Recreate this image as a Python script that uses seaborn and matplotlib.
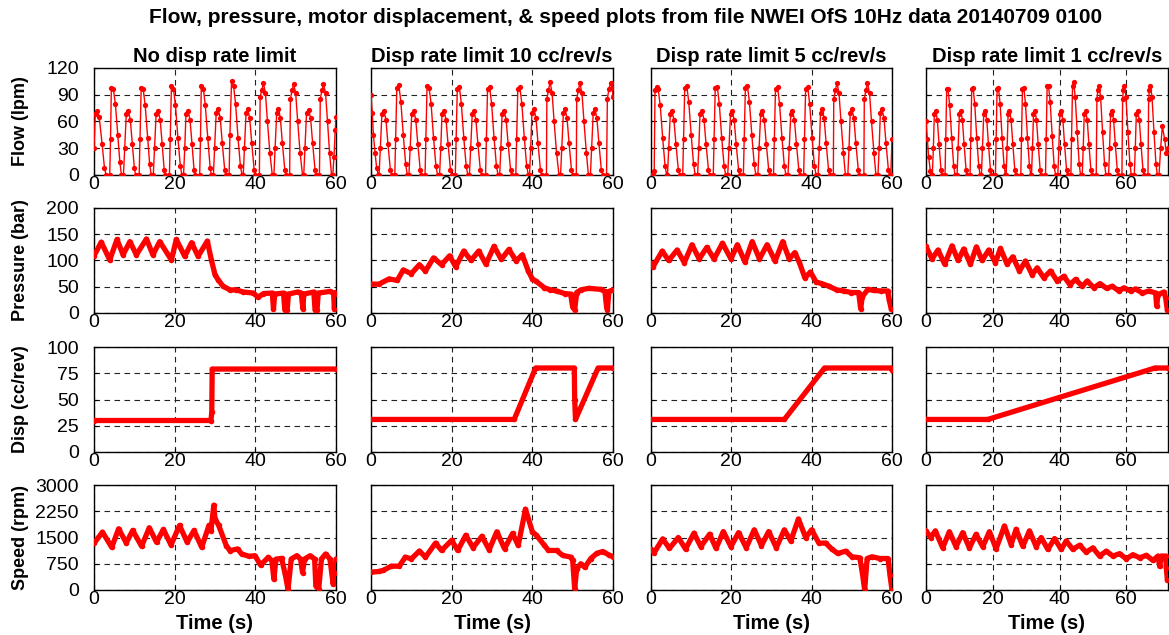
import numpy as np
import pandas as pd
import matplotlib
matplotlib.use("Agg")
import matplotlib.pyplot as plt
import seaborn as sns

# column titles and row labels
col_titles = ["No disp rate limit", "Disp rate limit 10 cc/rev/s",
              "Disp rate limit 5 cc/rev/s", "Disp rate limit 1 cc/rev/s"]
row_labels = ["Flow (lpm)", "Pressure (bar)", "Disp (cc/rev)", "Speed (rpm)"]
row_ticks = [[0, 30, 60, 90, 120], [0, 50, 100, 150, 200],
             [0, 25, 50, 75, 100], [0, 750, 1500, 2250, 3000]]
x_ticks = [0, 20, 40, 60]
x_max = [60, 60, 60, 72.5]

# ---------------- flow (lpm), (time s, value) ----------------
flow_nolim = [
    (0, 30), (0.3, 68), (0.8, 72), (1.3, 65), (2.0, 35), (2.6, 8), (3.0, 0),
    (3.9, 0), (4.1, 40), (4.3, 98), (4.8, 96), (5.3, 80), (5.9, 45), (6.4, 15), (6.8, 0),
    (7.3, 0), (7.6, 30), (8.0, 68), (8.5, 72), (9.0, 62), (9.5, 35), (10.0, 8), (10.3, 0),
    (11.2, 0), (11.4, 40), (11.7, 98), (12.2, 96), (12.7, 78), (13.3, 42), (13.8, 12), (14.2, 0),
    (14.7, 0), (15.0, 30), (15.4, 68), (15.9, 72), (16.4, 62), (16.9, 35), (17.4, 6), (17.7, 0),
    (18.7, 0), (18.9, 40), (19.2, 100), (19.7, 97), (20.2, 78), (20.8, 42), (21.4, 10), (21.8, 0),
    (22.2, 0), (22.5, 30), (22.8, 68), (23.3, 72), (23.8, 62), (24.3, 35), (24.8, 6), (25.1, 0),
    (26.2, 0), (26.4, 40), (26.6, 100), (27.1, 97), (27.6, 78), (28.2, 42), (28.8, 8), (29.1, 0),
    (29.6, 0), (29.9, 30), (30.3, 70), (30.8, 74), (31.3, 64), (31.8, 36), (32.4, 6), (32.7, 0),
    (33.5, 0), (33.7, 45), (34.1, 105), (34.6, 100), (35.1, 80), (35.7, 42), (36.3, 10), (36.7, 0),
    (37.0, 0), (37.3, 30), (37.7, 70), (38.1, 74), (38.6, 64), (39.1, 36), (39.7, 6), (40.0, 0),
    (41.0, 0), (41.2, 88), (41.6, 95), (42.0, 103), (42.5, 92), (43.0, 60), (43.6, 25), (44.2, 0),
    (44.6, 0), (44.9, 30), (45.3, 70), (45.7, 74), (46.2, 64), (46.7, 36), (47.3, 6), (47.7, 0),
    (48.5, 0), (48.7, 85), (49.1, 95), (49.5, 102), (50.0, 92), (50.5, 60), (51.1, 25), (51.7, 0),
    (52.0, 0), (52.3, 30), (52.7, 70), (53.2, 73), (53.7, 64), (54.2, 36), (54.8, 6), (55.1, 0),
    (55.9, 0), (56.1, 85), (56.5, 95), (56.9, 102), (57.4, 92), (57.9, 60), (58.4, 25), (58.9, 0),
    (59.2, 0), (59.5, 20), (59.8, 50), (60.0, 65),
]
flow_lim10 = [
    (0, 90), (0.3, 70), (0.6, 45), (1.0, 25), (1.4, 8), (1.8, 0),
    (2.0, 0), (2.3, 30), (2.7, 68), (3.2, 72), (3.7, 62), (4.2, 35), (4.8, 6), (5.1, 0),
    (5.9, 0), (6.1, 40), (6.4, 98), (6.9, 101), (7.4, 82), (8.0, 45), (8.6, 12), (9.0, 0),
    (9.4, 0), (9.7, 30), (10.1, 68), (10.6, 72), (11.1, 62), (11.6, 35), (12.2, 6), (12.5, 0),
    (13.4, 0), (13.6, 40), (13.9, 100), (14.4, 98), (14.9, 80), (15.5, 42), (16.1, 10), (16.5, 0),
    (17.0, 0), (17.3, 30), (17.6, 68), (18.1, 72), (18.6, 62), (19.1, 35), (19.7, 6), (20.0, 0),
    (20.9, 0), (21.1, 40), (21.4, 97), (21.9, 99), (22.4, 80), (23.0, 42), (23.6, 10), (24.0, 0),
    (24.4, 0), (24.7, 30), (25.1, 68), (25.5, 72), (26.0, 62), (26.5, 35), (27.1, 6), (27.4, 0),
    (28.4, 0), (28.6, 40), (28.9, 97), (29.4, 99), (29.9, 80), (30.5, 42), (31.1, 10), (31.5, 0),
    (31.9, 0), (32.2, 30), (32.5, 68), (33.0, 72), (33.5, 62), (34.0, 35), (34.6, 6), (34.9, 0),
    (35.9, 0), (36.1, 40), (36.4, 97), (36.9, 99), (37.4, 80), (38.0, 42), (38.6, 10), (39.0, 0),
    (39.3, 0), (39.6, 30), (39.9, 70), (40.4, 74), (40.9, 64), (41.4, 36), (42.0, 6), (42.3, 0),
    (43.5, 0), (43.6, 85), (44.0, 95), (44.4, 104), (44.9, 92), (45.4, 60), (46.0, 25), (46.6, 0),
    (47.0, 0), (47.3, 30), (47.7, 70), (48.1, 74), (48.6, 64), (49.1, 36), (49.7, 6), (50.0, 0),
    (50.9, 0), (51.0, 85), (51.4, 95), (51.8, 103), (52.3, 92), (52.8, 60), (53.4, 25), (53.9, 0),
    (54.4, 0), (54.7, 30), (55.1, 70), (55.5, 74), (56.0, 64), (56.5, 36), (57.1, 6), (57.5, 0),
    (58.4, 0), (58.6, 85), (59.0, 97), (59.4, 103), (59.8, 98), (60.0, 88),
]
flow_lim5 = [
    (0, 0), (0.5, 0), (0.8, 5), (1.0, 95), (1.4, 99), (1.8, 96), (2.3, 78), (2.9, 42), (3.5, 10), (3.9, 0),
    (4.1, 0), (4.4, 30), (4.8, 68), (5.2, 72), (5.7, 62), (6.2, 35), (6.8, 6), (7.2, 0),
    (7.9, 0), (8.1, 40), (8.4, 98), (8.9, 100), (9.4, 82), (10.0, 45), (10.6, 12), (11.0, 0),
    (11.6, 0), (11.9, 30), (12.2, 68), (12.7, 72), (13.2, 62), (13.7, 35), (14.3, 6), (14.6, 0),
    (15.5, 0), (15.7, 40), (16.0, 98), (16.5, 99), (17.0, 80), (17.6, 42), (18.2, 10), (18.6, 0),
    (19.1, 0), (19.4, 30), (19.8, 68), (20.2, 72), (20.7, 62), (21.2, 35), (21.8, 6), (22.1, 0),
    (23.0, 0), (23.2, 40), (23.5, 98), (24.0, 100), (24.5, 82), (25.1, 45), (25.7, 12), (26.1, 0),
    (26.6, 0), (26.9, 30), (27.3, 68), (27.7, 72), (28.2, 62), (28.7, 35), (29.3, 6), (29.6, 0),
    (30.5, 0), (30.7, 40), (31.0, 97), (31.5, 99), (32.0, 80), (32.6, 42), (33.2, 10), (33.6, 0),
    (34.1, 0), (34.4, 30), (34.8, 68), (35.2, 72), (35.7, 62), (36.2, 35), (36.8, 6), (37.1, 0),
    (38.0, 0), (38.2, 40), (38.5, 97), (39.0, 99), (39.5, 80), (40.1, 42), (40.7, 10), (41.1, 0),
    (41.6, 0), (41.9, 30), (42.2, 70), (42.6, 74), (43.1, 64), (43.6, 36), (44.2, 6), (44.5, 0),
    (45.4, 0), (45.5, 85), (45.9, 95), (46.3, 103), (46.8, 92), (47.3, 60), (47.9, 25), (48.4, 0),
    (49.0, 0), (49.3, 30), (49.6, 70), (50.0, 74), (50.5, 64), (51.0, 36), (51.6, 6), (51.9, 0),
    (53.0, 0), (53.1, 85), (53.5, 95), (53.9, 103), (54.4, 92), (54.9, 60), (55.5, 25), (56.0, 0),
    (56.5, 0), (56.8, 30), (57.1, 70), (57.5, 74), (58.0, 64), (58.5, 36), (59.1, 6), (59.4, 0),
    (59.7, 0), (60.0, 40),
]
flow_lim1 = [
    (0, 60), (0.4, 40), (0.8, 20), (1.3, 5), (1.7, 0),
    (1.9, 0), (2.2, 30), (2.5, 68), (2.9, 72), (3.4, 62), (3.9, 35), (4.5, 6), (4.8, 0),
    (5.7, 0), (5.9, 40), (6.2, 96), (6.6, 96), (7.1, 78), (7.7, 42), (8.3, 10), (8.7, 0),
    (9.3, 0), (9.6, 30), (10.0, 68), (10.4, 72), (10.9, 62), (11.4, 35), (12.0, 6), (12.3, 0),
    (13.2, 0), (13.4, 40), (13.7, 97), (14.1, 98), (14.6, 80), (15.2, 42), (15.8, 10), (16.2, 0),
    (16.6, 0), (16.9, 30), (17.3, 68), (17.7, 72), (18.2, 62), (18.7, 35), (19.3, 6), (19.6, 0),
    (20.8, 0), (21.0, 40), (21.3, 97), (21.7, 98), (22.2, 80), (22.8, 42), (23.4, 10), (23.8, 0),
    (24.0, 0), (24.3, 30), (24.6, 68), (25.0, 72), (25.5, 62), (26.0, 35), (26.6, 6), (26.9, 0),
    (28.4, 0), (28.6, 40), (28.9, 97), (29.3, 98), (29.8, 80), (30.4, 42), (31.0, 10), (31.4, 0),
    (31.6, 0), (31.9, 30), (32.2, 68), (32.6, 72), (33.1, 62), (33.6, 35), (34.2, 6), (34.5, 0),
    (35.8, 0), (36.0, 40), (36.3, 100), (36.7, 100), (37.2, 82), (37.8, 44), (38.4, 10), (38.8, 0),
    (39.5, 0), (39.8, 30), (40.1, 68), (40.5, 72), (41.0, 62), (41.5, 35), (42.1, 6), (42.4, 0),
    (43.4, 0), (43.6, 40), (43.9, 100), (44.2, 104), (44.7, 88), (45.3, 48), (45.9, 12), (46.3, 0),
    (46.8, 0), (47.1, 30), (47.4, 68), (47.8, 72), (48.3, 62), (48.8, 35), (49.4, 6), (49.7, 0),
    (51.0, 0), (51.2, 85), (51.5, 95), (51.8, 100), (52.3, 88), (52.9, 48), (53.5, 12), (53.9, 0),
    (54.7, 0), (55.0, 30), (55.3, 68), (55.7, 72), (56.2, 62), (56.7, 35), (57.3, 6), (57.6, 0),
    (58.7, 0), (58.9, 85), (59.1, 95), (59.4, 100), (59.9, 88), (60.5, 48), (61.1, 12), (61.5, 0),
    (62.4, 0), (62.7, 30), (63.0, 68), (63.4, 72), (63.9, 62), (64.4, 35), (65.0, 6), (65.3, 0),
    (66.5, 0), (66.7, 85), (66.9, 95), (67.2, 100), (67.7, 88), (68.3, 48), (68.9, 12), (69.3, 0),
    (69.8, 0), (70.3, 30), (70.8, 55), (71.5, 40), (72.0, 25), (72.5, 30),
]

# ---------------- pressure (bar) ----------------
pres_nolim = [
    (0, 109), (1.8, 135), (3.9, 101), (5.7, 140), (7.2, 111), (8.9, 136), (10.5, 111),
    (13.0, 141), (14.6, 111), (16.3, 136), (19.2, 101), (20.4, 140), (22.5, 108), (24.2, 134),
    (25.8, 108), (28.1, 137), (29.1, 101), (30.0, 73), (30.8, 63), (32.0, 51), (33.7, 44),
    (35.3, 44), (37.0, 40), (39.5, 38), (40.7, 30), (42.0, 37), (44.2, 38), (44.5, 8),
    (44.8, 36), (47.0, 38), (47.3, 6), (47.9, 6), (48.2, 36), (50.5, 40), (51.4, 38),
    (51.6, 22), (51.8, 8), (52.0, 36), (54.5, 40), (54.8, 6), (55.3, 6), (55.6, 38),
    (58.5, 41), (59.4, 38), (59.6, 8), (59.8, 36), (60.0, 39),
]
pres_lim10 = [
    (0, 55), (2.0, 55), (4.5, 65), (6.5, 62), (8.0, 82), (10.0, 75), (12.0, 92), (13.5, 80),
    (15.5, 105), (17.5, 92), (19.5, 109), (21.0, 88), (23.0, 118), (24.8, 100), (26.7, 118),
    (28.5, 93), (30.5, 127), (32.3, 102), (34.2, 121), (36.0, 99), (37.5, 111), (39.0, 80),
    (40.0, 65), (41.0, 60), (43.0, 48), (44.5, 44), (46.0, 42), (48.0, 37), (49.5, 36),
    (50.0, 11), (50.5, 6), (51.0, 39), (52.0, 44), (54.0, 47), (57.0, 45), (58.0, 41),
    (58.4, 12), (58.6, 6), (59.0, 41), (60.0, 44),
]
pres_lim5 = [
    (0, 95), (0.5, 88), (2.8, 118), (4.4, 100), (6.5, 120), (8.3, 96), (10.2, 130), (12.0, 103),
    (13.9, 125), (15.7, 103), (17.8, 133), (19.9, 103), (21.5, 130), (23.4, 97), (25.2, 136),
    (27.0, 103), (28.9, 130), (30.9, 99), (32.8, 136), (34.4, 103), (35.8, 115), (36.9, 97),
    (38.3, 67), (39.7, 78), (41.1, 59), (42.5, 56), (44.3, 51), (46.2, 44), (48.0, 42),
    (49.9, 39), (51.7, 39), (52.2, 8), (52.6, 31), (54.0, 45), (55.4, 43), (57.3, 42),
    (58.9, 42), (59.3, 25), (59.8, 8), (60.0, 8),
]
pres_lim1 = [
    (0, 127), (1.8, 103), (3.6, 120), (5.6, 93), (7.8, 128), (9.6, 100), (11.3, 122), (13.3, 93),
    (15.1, 126), (16.8, 100), (18.8, 120), (20.8, 96), (22.3, 123), (24.3, 93), (26.0, 107),
    (28.0, 80), (29.8, 99), (31.8, 73), (33.3, 86), (35.3, 67), (37.3, 80), (39.3, 61),
    (41.3, 70), (43.1, 54), (44.8, 64), (46.8, 51), (48.3, 61), (50.3, 48), (52.1, 56),
    (54.1, 47), (55.8, 51), (57.8, 42), (59.3, 48), (61.3, 42), (62.8, 46), (64.8, 38),
    (66.8, 42), (68.8, 38), (69.1, 13), (69.5, 35), (71.3, 40), (71.8, 29), (72.3, 5),
]

# ---------------- motor displacement (cc/rev) ----------------
disp_nolim = [(0, 30), (29.0, 30), (29.2, 38), (29.3, 79), (60.0, 79)]
disp_lim10 = [(0, 31), (35.5, 31), (40.8, 80), (50.4, 80), (50.5, 50), (50.7, 31),
              (56.3, 80), (60.0, 80)]
disp_lim5 = [(0, 31), (33.2, 31), (43.2, 80), (59.8, 80), (60.0, 78)]
disp_lim1 = [(0, 31), (18.5, 31), (68.6, 80), (72.4, 80)]

# ---------------- speed (rpm) ----------------
speed_nolim = [
    (0, 1336), (2.1, 1654), (4.4, 1221), (6.1, 1750), (8.0, 1346), (9.6, 1702), (11.8, 1250),
    (13.7, 1779), (15.5, 1365), (17.2, 1730), (19.1, 1288), (21.2, 1846), (23.1, 1365),
    (24.8, 1702), (26.7, 1221), (28.5, 1846), (29.0, 1700), (29.7, 2423), (30.0, 2038),
    (30.9, 1846), (32.8, 1270), (33.7, 1125), (35.6, 1173), (36.6, 1029), (38.5, 962),
    (39.9, 981), (41.3, 712), (43.2, 933), (44.1, 837), (44.6, 308), (45.1, 880), (46.5, 904),
    (47.4, 452), (48.1, 19), (48.9, 885), (50.3, 981), (51.2, 885), (51.7, 500), (52.2, 885),
    (53.6, 981), (54.7, 885), (55.0, 115), (55.7, 19), (56.4, 885), (57.4, 1029), (58.5, 885),
    (59.3, 163), (59.7, 500), (60.0, 885),
]
speed_lim10 = [
    (0, 510), (2.0, 530), (3.0, 560), (5.0, 680), (7.0, 680), (8.5, 940), (10.0, 890),
    (12.0, 1115), (13.5, 940), (16.0, 1340), (17.5, 1130), (20.0, 1420), (21.5, 1130),
    (23.5, 1565), (25.3, 1210), (27.5, 1535), (29.3, 1150), (31.2, 1665), (33.1, 1180),
    (35.1, 1615), (36.5, 1275), (38.3, 2310), (40.0, 1665), (41.0, 1565), (43.0, 1275),
    (44.0, 1130), (46.0, 1130), (47.5, 990), (49.5, 940), (50.0, 845), (50.5, 30), (51.0, 605),
    (52.0, 750), (53.0, 650), (54.5, 900), (56.0, 1050), (57.5, 1100), (59.0, 1000), (60.0, 950),
]
speed_lim5 = [
    (0, 1165), (0.8, 1065), (2.9, 1460), (4.6, 1190), (6.8, 1500), (8.6, 1170), (10.7, 1625),
    (12.4, 1240), (14.6, 1595), (16.2, 1190), (18.0, 1670), (19.9, 1240), (21.8, 1640),
    (23.7, 1210), (25.7, 1720), (27.5, 1270), (29.3, 1670), (31.2, 1210), (33.2, 1720),
    (34.8, 1400), (36.7, 2030), (38.5, 1500), (40.0, 1720), (41.8, 1340), (43.5, 1340),
    (45.0, 1170), (46.5, 1045), (48.5, 1110), (50.0, 950), (52.0, 920), (52.7, 420),
    (53.2, 0), (53.8, 900), (55.0, 950), (57.0, 900), (59.0, 900), (59.5, 420), (60.0, 0),
]
speed_lim1 = [
    (0, 1690), (1.4, 1500), (2.8, 1690), (5.0, 1205), (7.0, 1665), (9.0, 1240), (11.0, 1640),
    (13.0, 1205), (15.0, 1590), (17.0, 1240), (19.0, 1665), (21.0, 1180), (23.5, 1830),
    (25.5, 1300), (27.0, 1735), (29.0, 1250), (31.0, 1690), (33.0, 1240), (34.5, 1500),
    (36.5, 1160), (38.5, 1470), (40.5, 1160), (42.0, 1400), (44.0, 1160), (46.0, 1280),
    (48.0, 1080), (50.0, 1205), (52.0, 970), (54.0, 1110), (56.0, 970), (58.0, 1040),
    (60.0, 890), (62.0, 1010), (64.0, 920), (66.0, 990), (68.0, 845), (69.5, 970),
    (70.0, 675), (70.5, 970), (71.8, 970), (72.0, 630), (72.3, 290),
]

grid_data = [
    [flow_nolim, flow_lim10, flow_lim5, flow_lim1],
    [pres_nolim, pres_lim10, pres_lim5, pres_lim1],
    [disp_nolim, disp_lim10, disp_lim5, disp_lim1],
    [speed_nolim, speed_lim10, speed_lim5, speed_lim1],
]

sns.set_style("white")
plt.rcParams['font.family'] = ['Liberation Sans', 'DejaVu Sans']
plt.rcParams['text.color'] = 'black'
plt.rcParams['axes.labelcolor'] = 'black'
plt.rcParams['xtick.color'] = 'black'
plt.rcParams['ytick.color'] = 'black'

W, H = 1169, 635
fig = plt.figure(figsize=(W / 100, H / 100), dpi=100)

col_left = [94, 371, 651, 926]
col_width = [242, 242, 241, 242]
row_top = [68, 208, 347, 485]
row_bot = [175, 313, 452, 590]

for r in range(4):
    for c in range(4):
        ax = fig.add_axes([col_left[c] / W, 1 - row_bot[r] / H,
                           col_width[c] / W, (row_bot[r] - row_top[r]) / H])
        df = pd.DataFrame(grid_data[r][c], columns=["t", "v"])
        if r == 0:
            sns.lineplot(data=df, x="t", y="v", ax=ax, color="#ff0000", lw=1.0,
                         marker="o", markersize=3.8, markeredgewidth=0,
                         estimator=None, sort=False, zorder=3)
        else:
            sns.lineplot(data=df, x="t", y="v", ax=ax, color="#ff0000", lw=3.8,
                         marker="o", markersize=4, markeredgewidth=0,
                         estimator=None, sort=False, zorder=3)
        ax.set_xlim(0, x_max[c])
        ax.set_ylim(row_ticks[r][0], row_ticks[r][-1])
        ax.set_xticks(x_ticks)
        ax.set_yticks(row_ticks[r])
        ax.grid(True, color="#222222", linestyle=(0, (5, 4)), linewidth=0.8)
        ax.set_axisbelow(True)
        for s in ax.spines.values():
            s.set_color("black")
            s.set_linewidth(1.0)
        ax.tick_params(direction="in", length=3, labelsize=14, pad=1,
                       colors="black", left=True, bottom=True)
        ax.tick_params(axis="y", pad=11)
        ax.set_xlabel("")
        ax.set_ylabel("")
        if c == 0:
            ax.set_ylabel(row_labels[r], fontsize=13, fontweight="bold")
            ax.yaxis.set_label_coords(-0.27, 0.5)
        else:
            ax.set_yticklabels([])
        if r == 0:
            ax.set_title(col_titles[c], fontsize=14.5, fontweight="bold", pad=4)
        if r == 3:
            ax.set_xlabel("Time (s)", fontsize=14.5, fontweight="bold", labelpad=4)

fig.suptitle("Flow, pressure, motor displacement, & speed plots from file "
             "NWEI OfS 10Hz data 20140709 0100",
             fontsize=15, fontweight="bold", x=0.535, y=0.988)

fig.savefig("out.png", dpi=100)
